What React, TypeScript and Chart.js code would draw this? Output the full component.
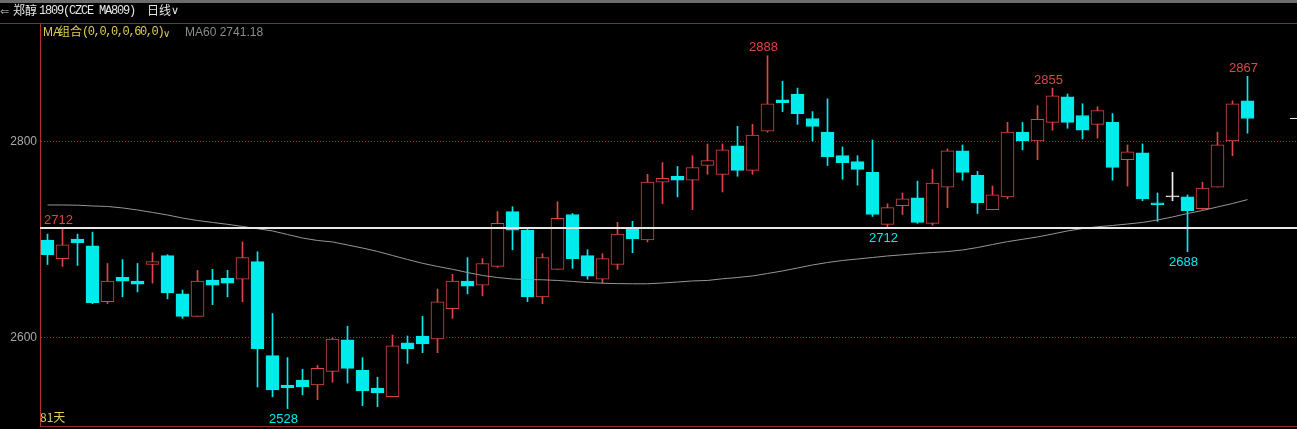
import React, { useEffect, useRef } from "react";
import { Chart, registerables } from "chart.js";

Chart.register(...registerables);

// Daily OHLC (郑醇1809), 81 trading days
const opens = [
  2700, 2681, 2701, 2694, 2637, 2662, 2658, 2675, 2684, 2645,
  2622, 2659, 2661, 2660, 2678, 2582, 2552, 2557, 2552, 2566,
  2598, 2567, 2549, 2540, 2595, 2602, 2599, 2630, 2658, 2654,
  2673, 2729, 2710, 2642, 2670, 2726, 2684, 2660, 2675, 2712,
  2700, 2759, 2765, 2761, 2776, 2767, 2796, 2771, 2811, 2843,
  2849, 2824, 2810, 2786, 2780, 2769, 2716, 2735, 2743, 2717,
  2754, 2791, 2766, 2731, 2744, 2810, 2801, 2820, 2846, 2827,
  2818, 2820, 2782, 2789, 2738, 2744, 2744, 2732, 2754, 2801,
  2842,
];
const highs = [
  2706, 2711, 2706, 2708, 2676, 2680, 2676, 2687, 2685, 2649,
  2669, 2670, 2669, 2698, 2688, 2625, 2580, 2568, 2572, 2600,
  2612, 2580, 2560, 2603, 2602, 2622, 2650, 2665, 2682, 2681,
  2729, 2734, 2711, 2686, 2739, 2727, 2690, 2686, 2718, 2719,
  2767, 2779, 2775, 2786, 2798, 2798, 2816, 2818, 2888, 2862,
  2855, 2831, 2844, 2795, 2786, 2802, 2737, 2748, 2760, 2772,
  2793, 2797, 2770, 2755, 2820, 2820, 2837, 2855, 2849, 2839,
  2836, 2829, 2797, 2798, 2748, 2769, 2746, 2759, 2810, 2842,
  2867,
];
const lows = [
  2675, 2673, 2674, 2635, 2635, 2642, 2647, 2656, 2640, 2620,
  2622, 2634, 2642, 2637, 2550, 2540, 2528, 2542, 2537, 2555,
  2554, 2531, 2530, 2540, 2574, 2585, 2585, 2620, 2645, 2643,
  2672, 2690, 2637, 2635, 2670, 2671, 2660, 2656, 2670, 2687,
  2698, 2737, 2744, 2731, 2767, 2749, 2765, 2767, 2810, 2831,
  2818, 2801, 2776, 2762, 2756, 2724, 2712, 2726, 2717, 2715,
  2733, 2761, 2727, 2731, 2742, 2792, 2782, 2812, 2814, 2803,
  2804, 2761, 2755, 2740, 2719, 2740, 2688, 2731, 2754, 2786,
  2809,
];
const closes = [
  2685, 2695, 2697, 2636, 2658, 2658, 2655, 2678, 2646, 2622,
  2658, 2654, 2656, 2682, 2589, 2547, 2549, 2550, 2569, 2599,
  2569, 2546, 2544, 2592, 2589, 2594, 2637, 2658, 2653, 2676,
  2717, 2710, 2642, 2682, 2722, 2681, 2663, 2681, 2706, 2701,
  2759, 2763, 2761, 2774, 2781, 2792, 2771, 2807, 2839, 2840,
  2829, 2816, 2785, 2779, 2772, 2726, 2733, 2742, 2718, 2758,
  2791, 2769, 2738, 2746, 2810, 2801, 2823, 2847, 2820, 2812,
  2832, 2774, 2790, 2742, 2736, 2744, 2730, 2753, 2797, 2839,
  2824,
];
const ma60 = [
  2735.7, 2735.7, 2735.5, 2734.7, 2734.2, 2732.7, 2730.6, 2728.1, 2725.5, 2722.4,
  2719.9, 2717.9, 2716.0, 2713.8, 2711.5, 2709.2, 2705.6, 2702.0, 2699.5, 2698.0,
  2694.9, 2691.8, 2688.3, 2684.2, 2680.1, 2676.2, 2673.0, 2670.1, 2666.8, 2663.8,
  2661.7, 2660.2, 2659.6, 2659.4, 2658.7, 2657.7, 2656.6, 2655.9, 2655.5, 2655.3,
  2655.3, 2656.1, 2657.1, 2658.2, 2658.7, 2660.4, 2661.7, 2663.3, 2665.8, 2668.4,
  2671.4, 2674.5, 2677.0, 2679.1, 2680.6, 2682.1, 2683.7, 2684.9, 2686.2, 2687.2,
  2688.2, 2689.8, 2692.3, 2695.4, 2698.3, 2700.7, 2703.1, 2706.1, 2709.2, 2711.7,
  2713.5, 2714.8, 2716.3, 2717.9, 2720.4, 2723.5, 2727.0, 2730.1, 2733.7, 2737.2,
  2741.18,
];
const yTicks = [2600, 2800];
const refLine = 2712;
const highMarks = [48, 67, 80];
const lowMarks = [16, 56, 76];

const RED = "rgb(220,70,70)";
const CYAN = "rgb(0,236,236)";
const DOJI = "#f0f0f0";
const FRAME = "rgb(150,40,40)";

export default function App() {
  const ref = useRef<HTMLCanvasElement>(null);

  useEffect(() => {
    if (!ref.current) return;
    const idx = opens.map((_, i) => i);
    const colorOf = (i: number) =>
      closes[i] > opens[i] ? RED : closes[i] < opens[i] ? CYAN : DOJI;

    const overlay = {
      id: "overlay",
      beforeDraw(chart: any) {
        const { ctx, width, height, chartArea } = chart;
        ctx.save();
        ctx.fillStyle = "#000";
        ctx.fillRect(0, 0, width, height);
        ctx.fillStyle = "#6c6c6c";
        ctx.fillRect(0, 0, width, 3);
        ctx.fillStyle = FRAME;
        ctx.fillRect(0, chartArea.top, width, 1);
        ctx.fillRect(chartArea.left, chartArea.bottom, width - chartArea.left, 1);
        ctx.restore();
      },
      afterDatasetsDraw(chart: any) {
        const { ctx, chartArea, scales } = chart;
        const xs = scales.x;
        const ys = scales.y;
        ctx.save();
        // reference line
        const ly = Math.round(ys.getPixelForValue(refLine));
        ctx.fillStyle = "#e8e8e8";
        ctx.fillRect(chartArea.left, ly - 1, chartArea.right - chartArea.left, 2);
        ctx.font = "13px 'Liberation Sans', Arial, sans-serif";
        ctx.textBaseline = "alphabetic";
        ctx.textAlign = "left";
        ctx.fillStyle = RED;
        ctx.fillText(String(refLine), chartArea.left + 4, ly - 4);
        // extreme labels
        ctx.textAlign = "center";
        for (const i of highMarks) {
          ctx.fillStyle = RED;
          ctx.fillText(
            String(highs[i]),
            xs.getPixelForValue(i) - 4,
            ys.getPixelForValue(highs[i]) - 4.5
          );
        }
        for (const i of lowMarks) {
          ctx.fillStyle = CYAN;
          ctx.fillText(
            String(lows[i]),
            xs.getPixelForValue(i) - 4,
            ys.getPixelForValue(lows[i]) + 14
          );
        }
        // last price marker
        const last = closes.length - 1;
        const py = Math.round(ys.getPixelForValue(closes[last]));
        ctx.fillStyle = "#e8e8e8";
        ctx.fillRect(chartArea.right - 7, py, 7, 1);
        ctx.restore();
      },
    };

    const chart = new Chart(ref.current, {
      type: "bar",
      data: {
        datasets: [
          {
            type: "bar",
            data: idx.map((i) => ({ x: i, y: [lows[i], highs[i]] })) as any,
            backgroundColor: idx.map(colorOf),
            borderWidth: 0,
            barThickness: 1,
            grouped: false,
            order: 3,
          } as any,
          {
            type: "bar",
            data: idx.map((i) => ({ x: i, y: [opens[i], closes[i]] })) as any,
            backgroundColor: idx.map((i) => (closes[i] > opens[i] ? "#000" : colorOf(i))),
            borderColor: idx.map(colorOf),
            borderWidth: 1,
            borderSkipped: false,
            barThickness: 13,
            minBarLength: 1,
            grouped: false,
            order: 2,
          } as any,
          {
            type: "line",
            data: idx.map((i) => ({ x: i, y: ma60[i] })) as any,
            borderColor: "rgb(150,150,150)",
            borderWidth: 1,
            pointRadius: 0,
            tension: 0,
            order: 1,
          } as any,
        ],
      },
      options: {
        animation: false,
        responsive: false,
        events: [],
        layout: { padding: { top: 23, bottom: 3, left: 0, right: 0 } },
        plugins: { legend: { display: false }, tooltip: { enabled: false } },
        scales: {
          x: {
            type: "linear",
            min: -0.5,
            max: 83.3,
            display: false,
            offset: false,
          },
          y: {
            type: "linear",
            min: 2510.2,
            max: 2921.4,
            afterBuildTicks: (axis: any) => {
              axis.ticks = yTicks.map((value) => ({ value }));
            },
            afterFit: (axis: any) => {
              axis.width = 40;
              axis.paddingTop = 0;
              axis.paddingBottom = 0;
            },
            ticks: {
              color: "#a8a8a8",
              font: { family: "'Liberation Sans', Arial, sans-serif", size: 12 },
              padding: 3,
              callback: (v: any) => String(v),
            },
            grid: { color: "rgb(170,40,40)", drawTicks: false, lineWidth: 1 },
            border: { display: true, color: "rgb(180,48,48)", dash: [1, 2] },
          },
        },
      } as any,
      plugins: [overlay],
    });
    return () => chart.destroy();
  }, []);

  const abs = (left: number, top: number, extra: React.CSSProperties = {}): React.CSSProperties => ({
    position: "absolute",
    left,
    top,
    lineHeight: "14px",
    whiteSpace: "pre",
    ...extra,
  });
  const cjk = "'Noto Sans CJK SC', sans-serif";
  const mono = "'Liberation Mono', 'DejaVu Sans Mono', monospace";
  const sans = "'Liberation Sans', Arial, sans-serif";
  const YEL = "rgb(222,204,86)";

  return (
    <div
      style={{
        position: "fixed",
        left: 0,
        top: 0,
        width: 1297,
        height: 429,
        background: "#000",
        overflow: "hidden",
      }}
    >
      <canvas ref={ref} width={1297} height={429} style={{ display: "block" }} />
      <span style={abs(0, 4, { color: "#9a9a9a", fontSize: 11, fontFamily: sans })}>⇐</span>
      <span style={abs(13, 3, { color: "#e6e6e6", fontSize: 12, fontFamily: cjk })}>郑醇</span>
      <span style={abs(39, 4, { color: "#e6e6e6", fontSize: 12, fontFamily: mono, letterSpacing: "-1.2px" })}>
        1809(CZCE MA809)
      </span>
      <span style={abs(147, 3, { color: "#e6e6e6", fontSize: 12, fontFamily: cjk })}>日线</span>
      <span style={abs(171, 3, { color: "#e6e6e6", fontSize: 11, fontFamily: sans })}>∨</span>
      <span style={abs(43, 25, { color: YEL, fontSize: 12, fontFamily: sans })}>MA</span>
      <span style={abs(58, 24, { color: YEL, fontSize: 12, fontFamily: cjk })}>组合</span>
      <span style={abs(82, 25, { color: YEL, fontSize: 12, fontFamily: mono, letterSpacing: "-1.4px" })}>
        (0,0,0,0,60,0)
      </span>
      <span style={abs(163, 27, { color: YEL, fontSize: 10, fontFamily: sans })}>∨</span>
      <span style={abs(185, 25, { color: "#8c8c8c", fontSize: 12, fontFamily: sans })}>MA60 2741.18</span>
      <span style={abs(40, 410, { color: YEL, fontSize: 12, fontFamily: cjk })}>81天</span>
    </div>
  );
}
